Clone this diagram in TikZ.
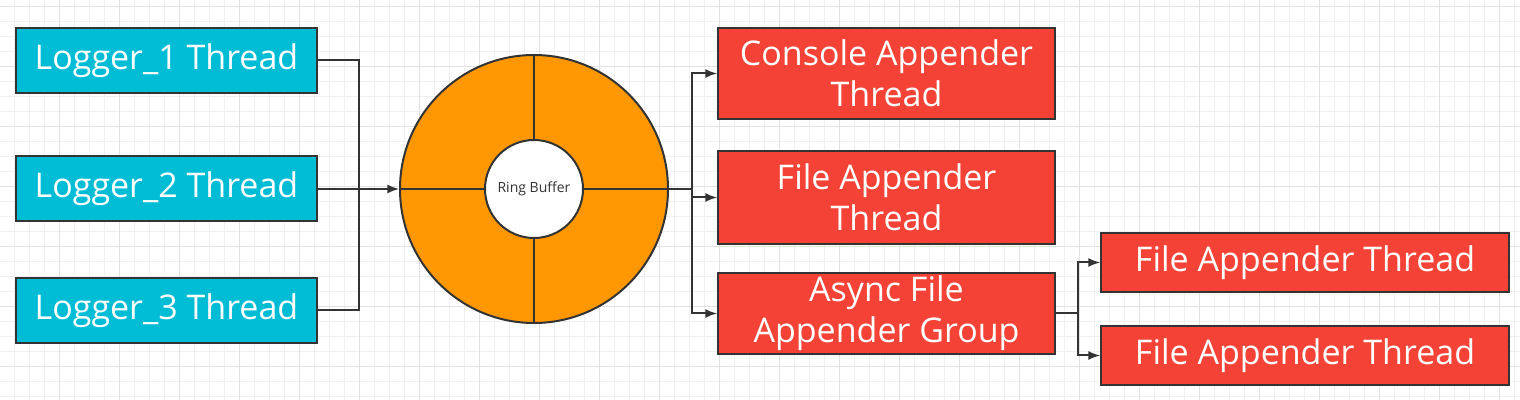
\documentclass[tikz,border=0pt]{standalone}
\usepackage{fontspec}
\setmainfont{Open Sans}
\usepackage{tikz}
\usetikzlibrary{positioning, arrows, calc}

\definecolor{loggerblue}{HTML}{00BCD4}
\definecolor{ringorange}{HTML}{FF9800}
\definecolor{appenderred}{HTML}{F44336}
\definecolor{edgegray}{HTML}{333333}
\definecolor{gridminor}{HTML}{F0F0F0}
\definecolor{gridmajor}{HTML}{E2E2E2}

\tikzset{
	threadbox/.style={draw=edgegray, line width=1pt, rectangle, text=white, text centered,
		align=center, font=\fontsize{17}{20.5}\selectfont, inner sep=0pt},
	logger/.style={threadbox, fill=loggerblue, minimum width=150.5pt, minimum height=32.5pt},
	appender/.style={threadbox, fill=appenderred, minimum width=168.5pt},
	member/.style={threadbox, fill=appenderred, minimum width=204pt, minimum height=29.5pt},
	link/.style={draw=edgegray, line width=1pt},
}

\begin{document}
\begin{tikzpicture}[x=0.5pt, y=-0.5pt]
			
			\useasboundingbox (0,0) rectangle (1520,400);
			
			%Grid
			\fill[white] (0,0) rectangle (1520,400);
			\foreach \x in {14,29,...,1519} \draw[gridminor, line width=0.5pt] (\x,0) -- (\x,400);
			\foreach \y in {7,22,...,399} \draw[gridminor, line width=0.5pt] (0,\y) -- (1520,\y);
			\foreach \x in {59,119,...,1519} \draw[gridmajor, line width=0.5pt] (\x,0) -- (\x,400);
			\foreach \y in {7,67,...,399} \draw[gridmajor, line width=0.5pt] (0,\y) -- (1520,\y);
			
			%Loggers
			\node (logger1) at (166.5,60.5) [logger]{Logger\_1 Thread};
			\node (logger2) at (166.5,189) [logger]{Logger\_2 Thread};
			\node (logger3) at (166.5,310.5) [logger]{Logger\_3 Thread};
			
			%Ring buffer
			\node (ring) at (534,189) [circle, draw=edgegray, fill=ringorange, line width=1pt, 
			minimum size=134pt, inner sep=0pt]{};
			\node (core) at (534,189) [circle, draw=edgegray, fill=white, line width=1pt, 
			minimum size=49pt, inner sep=0pt, text=edgegray, font=\fontsize{7}{8}\selectfont]{Ring Buffer};
			\draw[link] (ring.north) -- (core.north);
			\draw[link] (ring.south) -- (core.south);
			\draw[link] (ring.west) -- (core.west);
			\draw[link] (ring.east) -- (core.east);
			
			%Appenders
			\node (console) at (886.5,73.5) [appender, minimum height=45.5pt]{Console Appender\\Thread};
			\node (file) at (886.5,197.5) [appender, minimum height=46.5pt]{File Appender\\Thread};
			\node (async) at (886.5,313.5) [appender, minimum height=40.5pt]{Async File\\Appender Group};
			\node (member1) at (1305,262.5) [member]{File Appender Thread};
			\node (member2) at (1305,355.5) [member]{File Appender Thread};
			
			%Links
			\coordinate (mergeL) at (359,189);
			\draw[link] (logger1.east) -| (mergeL);
			\draw[link] (logger3.east) -| (mergeL);
			\draw[link, -latex] (logger2.east) -- (ring.west);
			
			\coordinate (splitR) at (692,189);
			\draw[link] (ring.east) -- (splitR);
			\foreach \target in {console, file, async}
			\draw[link, -latex] (splitR) |- (\target.west);
			
			\coordinate (splitG) at (1078,313.5);
			\draw[link] (async.east) -- (splitG);
			\draw[link, -latex] (splitG) |- (member1.west);
			\draw[link, -latex] (splitG) |- (member2.west);
			
\end{tikzpicture}
\end{document}
